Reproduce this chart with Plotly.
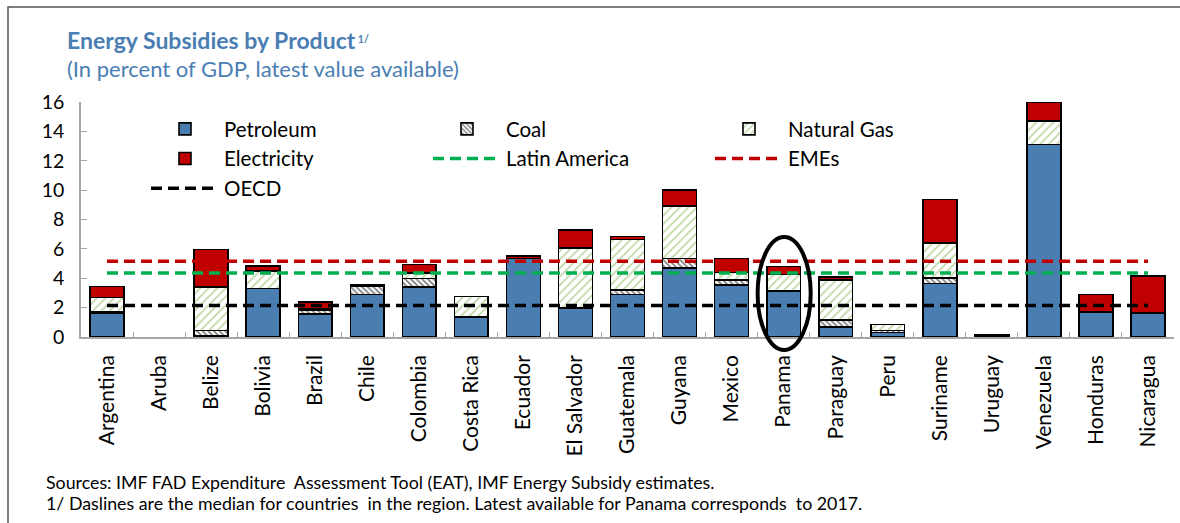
import plotly.graph_objects as go

countries = ["Argentina", "Aruba", "Belize", "Bolivia", "Brazil", "Chile", "Colombia",
             "Costa Rica", "Ecuador", "El Salvador", "Guatemala", "Guyana", "Mexico",
             "Panama", "Paraguay", "Peru", "Suriname", "Uruguay", "Venezuela",
             "Honduras", "Nicaragua"]

petroleum   = [1.65, 0, 0.05, 3.30, 1.55, 2.90, 3.40, 1.36, 5.35, 1.95, 2.90, 4.70, 3.55,
               3.15, 0.70, 0.30, 3.65, 0.15, 13.10, 1.70, 1.65]
coal        = [0.10, 0, 0.40, 0, 0.30, 0.55, 0.57, 0, 0, 0.05, 0.28, 0.65, 0.35,
               0, 0.45, 0.15, 0.35, 0, 0, 0, 0]
natural_gas = [0.95, 0, 2.95, 1.20, 0.05, 0, 0.40, 1.40, 0, 4.05, 3.47, 3.55, 0.50,
               1.10, 2.75, 0.40, 2.40, 0, 1.60, 0, 0]
electricity = [0.75, 0, 2.55, 0.35, 0.50, 0.10, 0.58, 0, 0.15, 1.25, 0.20, 1.10, 0.95,
               0.55, 0.20, 0, 2.95, 0, 1.30, 1.20, 2.50]

median_names  = ["Latin America", "EMEs", "OECD"]
median_values = [4.35, 5.15, 2.15]
median_colors = ["#00B050", "#C00000", "#000000"]

y_ticks = [0, 2, 4, 6, 8, 10, 12, 14, 16]

FONT = "Lato"
W, H = 1180, 523
ML, MR, MT, MB = 81, 6, 102, 186
PW, PH = W - ML - MR, H - MT - MB


def px_x(px):
    return (px - ML) / PW


def px_y(py):
    return (H - MB - py) / PH


def nz(vals):
    return [v if v else None for v in vals]


fig = go.Figure()

bar_line = dict(color="black", width=1.6)
fig.add_trace(go.Bar(x=countries, y=nz(petroleum), name="Petroleum", legend="legend",
                     marker=dict(color="#4A7EB0", line=bar_line)))
fig.add_trace(go.Bar(x=countries, y=nz(coal), name="Coal", legend="legend2",
                     marker=dict(color="white", line=bar_line,
                                 pattern=dict(shape="\\", fgcolor="black", bgcolor="white",
                                              size=4, solidity=0.45))))
fig.add_trace(go.Bar(x=countries, y=nz(natural_gas), name="Natural Gas", legend="legend3",
                     marker=dict(color="white", line=bar_line,
                                 pattern=dict(shape="/", fgcolor="#7FB050", bgcolor="white",
                                              size=6, solidity=0.3))))
fig.add_trace(go.Bar(x=countries, y=nz(electricity), name="Electricity", legend="legend",
                     marker=dict(color="#C00000", line=bar_line)))

median_legend = {"Latin America": "legend2", "EMEs": "legend3", "OECD": "legend"}
for name, val, col in zip(median_names, median_values, median_colors):
    fig.add_trace(go.Scatter(x=[countries[0], countries[-1]], y=[val, val], mode="lines",
                             name=name, legend=median_legend[name],
                             line=dict(color=col, width=3.5, dash="11px,6px")))

leg_font = dict(family=FONT, size=20.5, color="black")


def leg(xpx):
    return dict(orientation="v", x=px_x(xpx), y=px_y(109), xanchor="left", yanchor="top",
                itemwidth=68, font=leg_font, bgcolor="rgba(0,0,0,0)",
                traceorder="normal", tracegroupgap=0, itemclick=False,
                itemdoubleclick=False)


fig.update_layout(
    width=W, height=H,
    margin=dict(l=ML, r=MR, t=MT, b=MB),
    paper_bgcolor="white", plot_bgcolor="white",
    barmode="stack", bargap=0.35,
    font=dict(family=FONT, size=19, color="black"),
    showlegend=True,
    legend=leg(146), legend2=leg(428), legend3=leg(710),
    xaxis=dict(type="category", showline=True, linecolor="#A6A6A6", linewidth=1.5,
               ticks="inside", tickson="boundaries", ticklen=5, tickcolor="#A6A6A6",
               tickangle=-90, tickfont=dict(family=FONT, size=21, color="black"),
               ticklabelstandoff=8,
               showgrid=False, zeroline=False, fixedrange=True),
    yaxis=dict(range=[0, 16], tickvals=y_ticks, showline=True, linecolor="#A6A6A6",
               linewidth=1.5, ticks="inside", ticklen=6, tickcolor="#A6A6A6",
               tickfont=dict(family=FONT, size=19.5, color="black"), ticklabelstandoff=11,
               showgrid=False, zeroline=False, fixedrange=True),
)

# Ellipse highlighting Panama
pan = countries.index("Panama")
fig.add_shape(type="circle", xref="x", yref="paper",
              x0=pan - 0.5, x1=pan + 0.52, y0=px_y(350), y1=px_y(237),
              line=dict(color="black", width=4), fillcolor="rgba(0,0,0,0)", layer="above")

# Frame around the figure
fig.add_shape(type="rect", xref="paper", yref="paper",
              x0=px_x(8), x1=px_x(1190), y0=px_y(530), y1=px_y(7),
              line=dict(color="#555555", width=1.5), fillcolor="rgba(0,0,0,0)", layer="below")

title_col = "#4A7EB3"
fig.add_annotation(xref="paper", yref="paper", x=px_x(65), y=px_y(40), xanchor="left",
                   yanchor="middle", showarrow=False,
                   text="<b>Energy Subsidies by Product</b><span style='font-size:15px'><sup><b> 1/</b></sup></span>",
                   font=dict(family=FONT, size=23, color=title_col))
fig.add_annotation(xref="paper", yref="paper", x=px_x(65), y=px_y(69), xanchor="left",
                   yanchor="middle", showarrow=False,
                   text="(In percent of GDP, latest value available)",
                   font=dict(family=FONT, size=22, color=title_col))

fig.add_annotation(xref="paper", yref="paper", x=px_x(44), y=px_y(482), xanchor="left",
                   yanchor="middle", showarrow=False,
                   text="Sources: IMF FAD Expenditure  Assessment Tool (EAT), IMF Energy Subsidy estimates.",
                   font=dict(family=FONT, size=17.8, color="black"))
fig.add_annotation(xref="paper", yref="paper", x=px_x(44), y=px_y(503), xanchor="left",
                   yanchor="middle", showarrow=False,
                   text="1/ Daslines are the median for countries  in the region. Latest available for Panama corresponds  to 2017.",
                   font=dict(family=FONT, size=17.8, color="black"))

fig.write_html("out.html", config={"displayModeBar": False},
               post_script="document.body.style.margin='0';")
